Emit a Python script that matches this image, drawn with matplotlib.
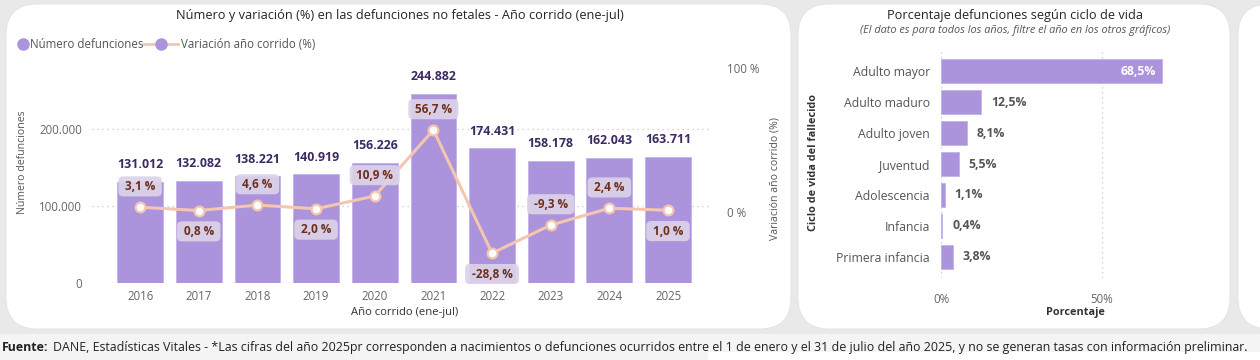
import matplotlib
matplotlib.use("Agg")
import matplotlib.pyplot as plt
from matplotlib.patches import FancyBboxPatch, Rectangle
from matplotlib.lines import Line2D

plt.rcParams['font.family'] = ['Open Sans', 'DejaVu Sans']

# ---------------- data ----------------
years = ['2016', '2017', '2018', '2019', '2020', '2021', '2022', '2023', '2024', '2025']
deaths = [131012, 132082, 138221, 140919, 156226, 244882, 174431, 158178, 162043, 163711]
variation = [3.1, 0.8, 4.6, 2.0, 10.9, 56.7, -28.8, -9.3, 2.4, 1.0]
var_label_side = ['up', 'down', 'up', 'down', 'up', 'up', 'down', 'up', 'up', 'down']

life_stages = ['Adulto mayor', 'Adulto maduro', 'Adulto joven', 'Juventud',
               'Adolescencia', 'Infancia', 'Primera infancia']
life_pct = [68.5, 12.5, 8.1, 5.5, 1.1, 0.4, 3.8]

W, H = 1260, 360
fig = plt.figure(figsize=(W / 100, H / 100), dpi=100)
fig.patch.set_facecolor('#f4f4f4')

def fx(px):
    return px / W

def fy(py):
    return 1 - py / H

# background band and panels
fig.add_artist(Rectangle((0, fy(334)), 1, 1 - fy(334), transform=fig.transFigure,
                         facecolor='#e9e9e9', edgecolor='none', zorder=-5))
fig.add_artist(Rectangle((fx(708), 0), fx(1260 - 708), fy(352), transform=fig.transFigure,
                         facecolor='white', edgecolor='none', zorder=-4))
for (x0, x1) in [(6, 791), (798, 1230), (1238, 1300)]:
    fig.add_artist(FancyBboxPatch((fx(x0), fy(329)), fx(x1 - x0), fy(4) - fy(329),
                                  boxstyle='round,pad=0,rounding_size=0.025',
                                  transform=fig.transFigure, facecolor='white',
                                  edgecolor='#e2e2e2', linewidth=0.6, zorder=-3,
                                  mutation_aspect=3.5))

BAR = '#ab94db'
LINE = '#f4c6b0'
TICK = '#666666'

# ---------------- left chart ----------------
ax = fig.add_axes([fx(92), fy(283.3), fx(712 - 92), fy(60) - fy(283.3)])
ax.set_facecolor('none')
x = list(range(len(years)))
ax.bar(x, deaths, width=0.78, color=BAR, edgecolor='#c3b3e8', linewidth=0.6, zorder=2)
ax.set_xlim(-0.82, 9.75)
ax.set_ylim(0, 288900)
ax.set_yticks([0, 100000, 200000])
ax.set_yticklabels(['0', '100.000', '200.000'])
ax.set_xticks(x)
ax.set_xticklabels(years)
ax.tick_params(axis='both', length=0, colors=TICK, labelsize=8.3)
ax.tick_params(axis='y', pad=7)
ax.tick_params(axis='x', pad=5)
for s in ax.spines.values():
    s.set_visible(False)
ax.grid(axis='y', color='#c8c8c8', linestyle=(0, (1, 3)), linewidth=0.9, zorder=0)
for xi, v in zip(x, deaths):
    ax.annotate(f'{v:,}'.replace(',', '.'), (xi, v), xytext=(0, 12.5),
                textcoords='offset points', ha='center', va='center',
                fontsize=8.9, fontweight='bold', color='#3b2b62', zorder=5)

ax2 = ax.twinx()
ax2.set_ylim(-49.7, 105.3)
ax2.set_yticks([0, 100])
ax2.set_yticklabels(['0 %', '100 %'])
ax2.tick_params(axis='y', length=0, colors=TICK, labelsize=8.3, pad=11)
for s in ax2.spines.values():
    s.set_visible(False)
ax2.plot(x, variation, color=LINE, linewidth=2.2, marker='o', markersize=7,
         markerfacecolor='white', markeredgecolor=LINE, markeredgewidth=1.6, zorder=3)
for xi, v, side in zip(x, variation, var_label_side):
    off = 15 if side == 'up' else -15
    ax2.annotate(' ' + f'{v:.1f} %'.replace('.', ',') + ' ', (xi, v), xytext=(0, off),
                 textcoords='offset points', ha='center', va='center',
                 fontsize=8.5, fontweight='bold', color='#6e2f19', zorder=6,
                 bbox=dict(boxstyle='round,pad=0.3,rounding_size=0.4',
                           fc='#dcd3e9', ec='none', alpha=0.92))

fig.text(fx(23), fy(162), 'Número defunciones', rotation=90, ha='center', va='center',
         fontsize=7.6, color='#555555')
fig.text(fx(775), fy(179), 'Variación año corrido (%)', rotation=90, ha='center', va='center',
         fontsize=7.6, color='#555555')
fig.text(fx(405), fy(313), 'Año corrido (ene-jul)', ha='center', va='center',
         fontsize=8.1, color='#333333')
fig.text(fx(400), fy(16), 'Número y variación (%) en las defunciones no fetales - Año corrido (ene-jul)',
         ha='center', va='center', fontsize=9.2, color='#252525')

# legend
fig.add_artist(Line2D([fx(23)], [fy(44)], marker='o', markersize=8, color=BAR,
                      linestyle='none', transform=fig.transFigure))
fig.text(fx(30), fy(44), 'Número defunciones', ha='left', va='center', fontsize=8.3, color='#555555')
fig.add_artist(Line2D([fx(143), fx(178)], [fy(44), fy(44)], color=LINE, linewidth=2,
                      transform=fig.transFigure))
fig.add_artist(Line2D([fx(160.5)], [fy(44)], marker='o', markersize=8, color=BAR,
                      linestyle='none', transform=fig.transFigure))
fig.text(fx(181), fy(44), 'Variación año corrido (%)', ha='left', va='center', fontsize=8.3, color='#555555')

# ---------------- right chart ----------------
axr = fig.add_axes([fx(941), fy(278), fx(1209 - 941), fy(50) - fy(278)])
axr.set_facecolor('none')
yy = list(range(len(life_stages)))
axr.barh(yy, life_pct, height=0.77, color=BAR, edgecolor='#c3b3e8', linewidth=0.6, zorder=2)
axr.set_ylim(6.68, -0.68)
axr.set_xlim(0, 83.2)
axr.set_yticks(yy)
axr.set_yticklabels(life_stages)
axr.set_xticks([0, 50])
axr.set_xticklabels(['0%', '50%'])
axr.tick_params(axis='both', length=0, colors=TICK, labelsize=8.3)
axr.tick_params(axis='y', pad=8, colors='#555555', labelsize=8.8)
axr.tick_params(axis='x', pad=11)
for s in axr.spines.values():
    s.set_visible(False)
axr.grid(axis='x', color='#c8c8c8', linestyle=(0, (1, 3)), linewidth=0.9, zorder=0)
for yi, v in zip(yy, life_pct):
    lab = f'{v:.1f}%'.replace('.', ',')
    if v > 40:
        axr.annotate(lab, (v, yi), xytext=(-4, 0), textcoords='offset points',
                     ha='right', va='center', fontsize=8.8, fontweight='bold', color='white')
    else:
        axr.annotate(lab, (v, yi), xytext=(7, 0), textcoords='offset points',
                     ha='left', va='center', fontsize=8.8, fontweight='bold', color='#555555')

fig.text(fx(814), fy(163), 'Ciclo de vida del fallecido', rotation=90, ha='center', va='center',
         fontsize=7.8, fontweight='bold', color='#333333')
fig.text(fx(1075), fy(313), 'Porcentaje', ha='center', va='center',
         fontsize=7.8, fontweight='bold', color='#333333')
fig.text(fx(1015), fy(15), 'Porcentaje defunciones según ciclo de vida', ha='center', va='center',
         fontsize=9.2, color='#252525')
fig.text(fx(1015), fy(31), '(El dato es para todos los años, filtre el año en los otros gráficos)',
         ha='center', va='center', fontsize=7.8, style='italic', color='#555555')

# footer
t1 = fig.text(fx(2), fy(351), 'Fuente:', ha='left', va='baseline', fontsize=8.95,
              fontweight='bold', color='#222222')
fig.canvas.draw()
bb = t1.get_window_extent()
fig.text(bb.x1 / W + fx(4.5), fy(351),
         'DANE, Estadísticas Vitales - *Las cifras del año 2025pr corresponden a nacimientos o defunciones '
         'ocurridos entre el 1 de enero y el 31 de julio del año 2025, y no se generan tasas con información preliminar.',
         ha='left', va='baseline', fontsize=8.95, color='#222222')

fig.savefig('out.png', dpi=100, facecolor=fig.get_facecolor())
